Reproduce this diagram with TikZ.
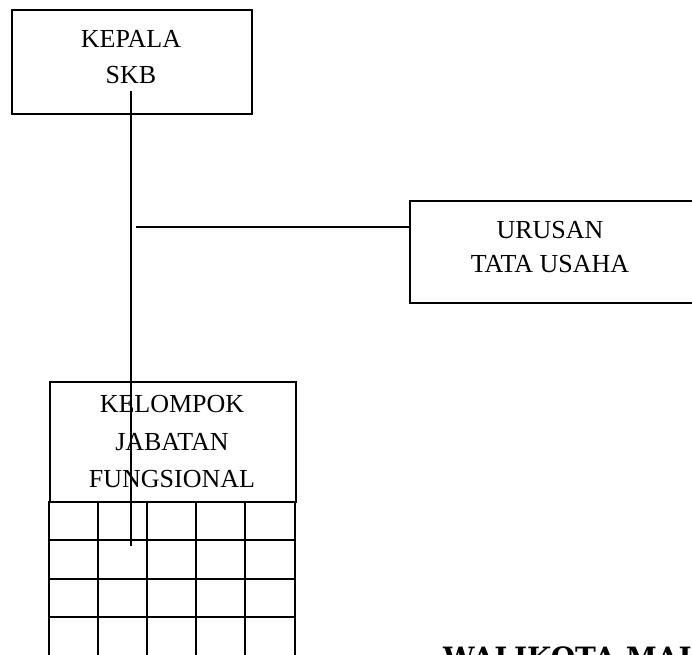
\documentclass[tikz,border=0pt]{standalone}
\usepackage{fontspec}
\setmainfont{Liberation Serif}
\newfontfamily\slabbold{DejaVu Serif}
\begin{document}
\begin{tikzpicture}[x=1pt,y=-1pt,line width=2pt,
  box/.style={draw,anchor=north west,inner sep=0pt},
  lbl/.style={anchor=base,inner sep=0pt,font=\fontsize{26}{30}\selectfont},
  link/.style={draw,line width=1.8pt}]
\useasboundingbox (0,0) rectangle (692,654);
\clip (0,0) rectangle (692,654);
% KEPALA SKB
\node[box,minimum width=240pt,minimum height=104pt] (kepala) at (11,9) {};
\node[lbl] (kepala1) at (131,47) {KEPALA};
\node[lbl] (kepala2) at (131,83) {SKB};
% URUSAN TATA USAHA
\node[box,minimum width=320pt,minimum height=102pt] (urusan) at (409,200) {};
\node[lbl] (urusan1) at (550,238) {URUSAN};
\node[lbl] (urusan2) at (550,272) {TATA USAHA};
% KELOMPOK JABATAN FUNGSIONAL
\node[box,minimum width=246pt,minimum height=120pt] (kjf) at (49,381) {};
\node[lbl] (kjf1) at (172,412) {KELOMPOK};
\node[lbl] (kjf2) at (172,450) {JABATAN};
\node[lbl] (kjf3) at (172,487) {FUNGSIONAL};
% grid below
\foreach \x in {49,98,147,196,245,295} \draw (\x,501) -- (\x,660);
\foreach \y in {540,579,617} \draw (49,\y) -- (295,\y);
% connectors
\coordinate (vtop) at (131,91);
\coordinate (vbot) at (131,546);
\coordinate (hstart) at (136,227);
\draw[link] (vtop) -- (vbot);
\draw[link] (hstart) -- (hstart -| urusan.west);
% bottom title (cut off by the page edge, as in the reference)
\node[anchor=base west,inner sep=0pt,font=\slabbold\bfseries\fontsize{28}{30}\selectfont] (wali) at (442,667) {WALIKOTA MAL};
\end{tikzpicture}
\end{document}
